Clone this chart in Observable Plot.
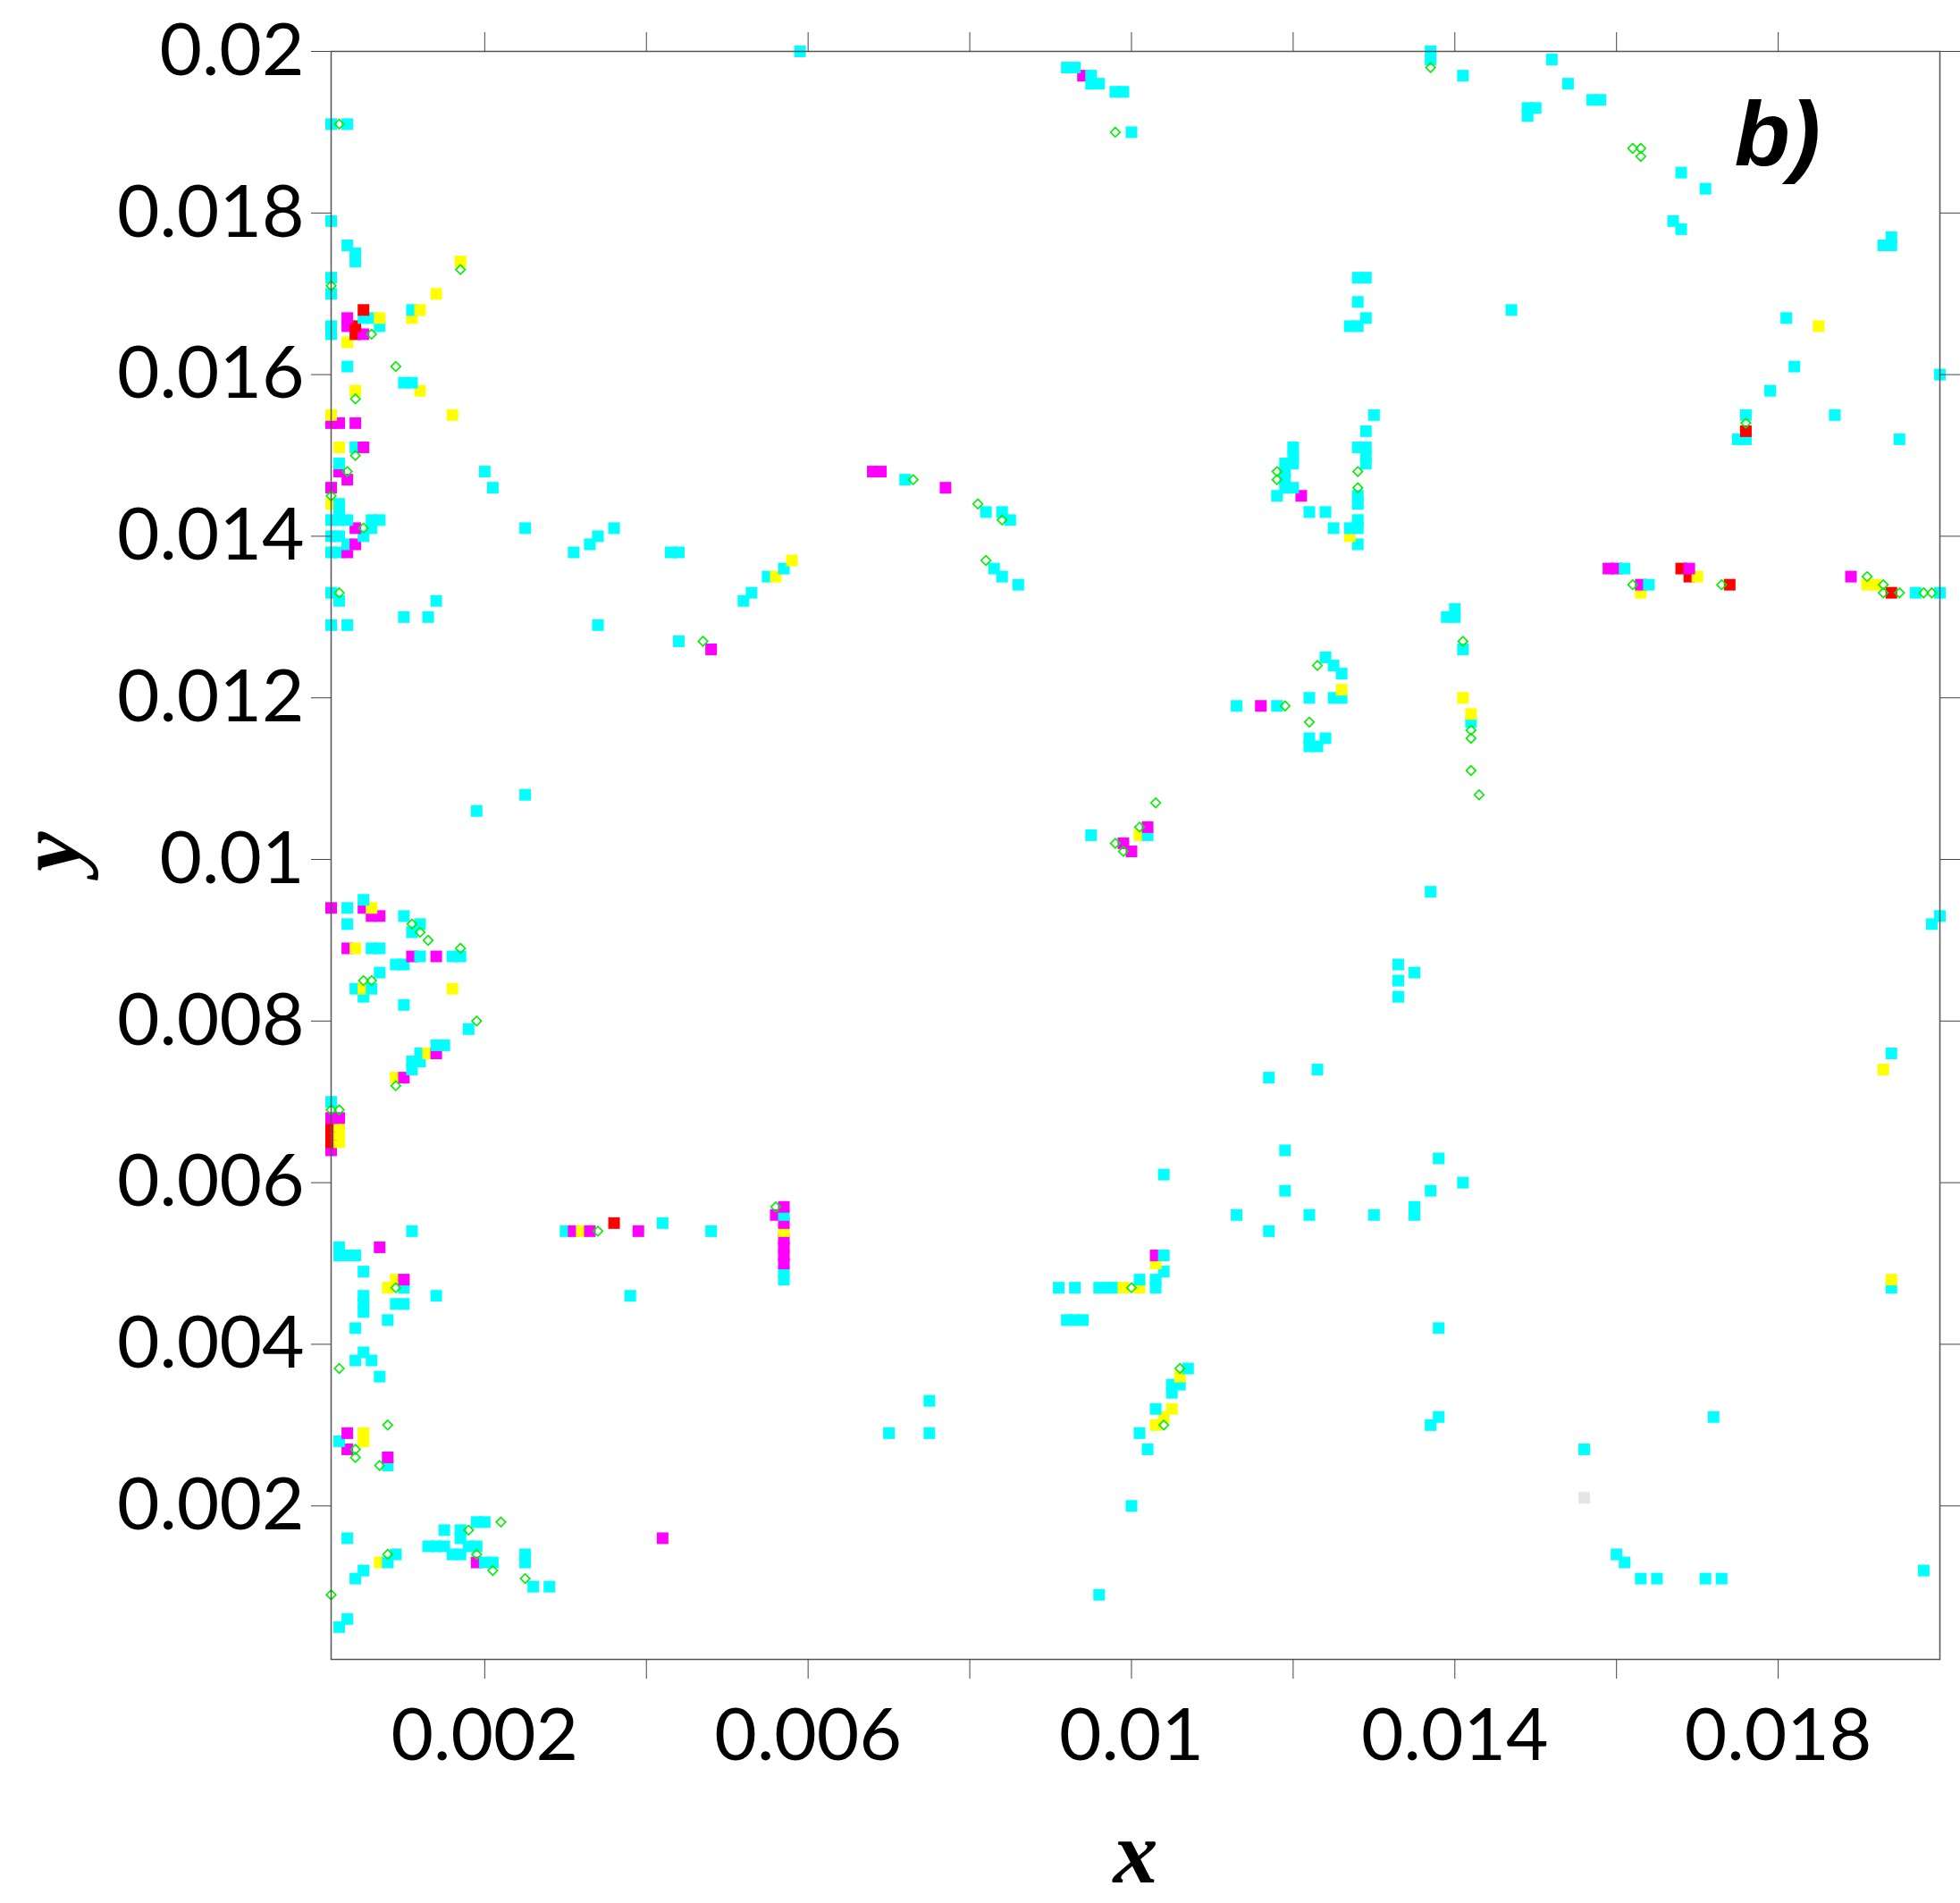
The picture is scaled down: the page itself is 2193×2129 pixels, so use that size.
<!DOCTYPE html>
<html><head><meta charset="utf-8">
<script src="https://cdn.jsdelivr.net/npm/d3@7"></script>
<script src="https://cdn.jsdelivr.net/npm/@observablehq/plot@0.6"></script>
<style>html,body{margin:0;padding:0;background:#fff;}</style>
</head><body><div id="chart"></div>
<script>
// Cell positions are given in units of 0.0001 (the grid step of the data): [x, y]
const UNIT = 1e-4;

const cyanCells = [
 [59,200],[1,191],[3,191],[1,179],[3,176],[4,175],[4,174],[1,172],[1,170],[11,168],[5,167],[6,167],[7,166],[1,166],[1,165],
 [3,161],[10,159],[11,159],[4,151],[2,149],[20,148],[21,146],[2,144],[2,143],[1,142],[2,142],[3,142],[6,142],[7,142],[6,141],
 [25,141],[36,141],[1,140],[2,140],[5,140],[34,140],[3,139],[33,139],[1,138],[2,138],[31,138],[43,138],[44,138],[57,136],[55,135],
 [1,133],[53,133],[2,132],[52,132],[14,132],
 [1,129],[3,129],[10,130],[13,130],[34,129],[44,127],[25,108],[19,106],[3,94],[5,95],[3,92],[10,93],[12,92],[11,91],
 [6,89],[7,89],[12,88],[16,88],[17,88],[9,87],[10,87],[7,86],[4,84],[6,84],[5,83],[10,82],[18,79],[14,77],[15,77],[12,76],
 [11,75],[12,75],[11,74],[1,70],
 [11,54],[2,52],[2,51],[3,51],[4,51],[5,49],[10,47],[5,46],[5,45],[5,44],[14,46],[9,45],[10,45],[38,46],[8,43],[4,42],[5,39],
 [4,38],[6,38],[7,36],[2,28],[8,25],[19,18],[20,18],[15,17],[17,17],[3,16],[17,16],[13,15],[14,15],[15,15],[18,15],[19,15],
 [16,14],[17,14],[9,14],[8,13],[20,13],[21,13],[25,14],[25,13],[5,12],[4,11],[26,10],[28,10],[3,6],[2,5],
 [30,54],[42,55],[48,54],[57,56],[57,49],[57,48],
 [119,64],[104,61],[119,59],[113,56],[122,56],[130,56],[117,54],[104,51],[104,49],[101,48],[103,48],[103,47],[91,47],[93,47],
 [96,47],[97,47],[98,47],[92,43],[93,43],[94,43],[107,37],[105,35],[106,35],[105,34],[103,32],[101,29],[102,27],[75,33],[70,29],
 [75,29],[100,20],[96,9],
 [138,63],[141,60],[137,59],[135,57],[135,56],[138,42],[138,31],[137,30],[172,31],[156,27],[160,14],[161,13],[163,11],[165,11],
 [171,11],[173,11],[198,12],[194,47],
 [124,125],[125,124],[126,123],[125,120],[126,120],[122,120],[113,119],[118,119],[122,115],[122,114],[124,115],[123,114],
 [95,103],[102,103],[133,87],[133,85],[133,83],[117,73],[123,74],
 [140,131],[139,130],[140,130],[141,126],[142,117],[137,96],[135,86],[200,93],[199,92],[194,76],[197,133],[200,133],[164,134],
 [137,200],[137,199],[152,199],[141,197],[154,196],[157,194],[158,194],[149,193],[150,193],[149,192],[168,185],[171,183],
 [167,179],[168,178],[194,177],[193,176],[194,176],[147,168],[181,167],[182,161],[200,160],[179,158],[176,155],[187,155],
 [175,152],[176,152],[195,152],[161,136],
 [92,198],[93,198],[95,197],[95,196],[96,196],[98,195],[99,195],[100,190],[128,172],[129,172],[128,169],[129,167],[127,166],
 [128,166],[130,155],[129,153],[128,151],[129,151],[129,150],[129,149],[128,145],[128,144],[128,142],[128,141],[127,141],
 [128,139],[125,141],[122,143],[124,143],[118,145],[119,146],[120,146],[120,151],[120,150],[120,149],[119,149],[119,148],
 [119,147],[72,147],[82,143],[84,143],[85,142],[83,136],[84,135],[86,134]
];

const magentaCells = [
 [5,165],[3,167],[3,166],[1,154],[2,154],[4,154],[5,151],[2,148],[3,147],[68,148],[69,148],[1,146],[4,141],[4,139],[3,138],[48,126],
 [1,94],[5,94],[6,93],[7,93],[3,89],[11,88],[14,88],[14,76],[10,73],[1,68],[2,68],
 [1,64],[7,52],[10,48],[3,29],[3,27],[8,26],[42,16],[19,13],
 [31,54],[33,54],[39,54],[57,57],[56,56],[57,55],[57,53],[57,52],[57,51],[57,50],
 [103,51],[116,119],[102,104],[99,102],[100,101],
 [77,146],[121,145],[94,197],
 [159,136],[160,136],[169,136],[189,135],[163,134]
];

const yellowCells = [
 [17,174],[14,170],[12,168],[11,167],[7,167],[3,164],[12,158],[4,158],[1,155],[16,155],[2,151],[1,144],[58,137],[56,135],
 [6,94],[4,89],[5,84],[16,84],[13,76],[9,73],
 [2,67],[2,66],[2,65],[9,48],[8,47],[5,29],[5,28],[7,13],[32,54],[57,54],
 [103,50],[99,47],[101,47],[106,36],[105,32],[104,31],[103,30],
 [194,48],[126,121],[101,103],[141,120],[142,118],[193,74],
 [127,140],[185,166],[170,135],[191,134],[192,134],[163,133]
];

const redCells = [
 [5,168],[4,166],[4,165],[1,67],[1,66],[1,65],[36,55],[176,153],[168,136],[169,135],[174,134],[194,133]
];

const greyCells = [[156,21]];

const greenDiamonds = [
 [2,191],[17,173],[1,171],[6,165],[9,161],[4,157],[4,150],[3,148],[1,145],[5,141],[2,133],
 [47,127],[11,92],[12,91],[13,90],[17,89],[5,85],[6,85],[19,80],[9,72],[1,69],[2,69],
 [9,47],[2,37],[8,30],[4,27],[4,26],[7,25],[22,18],[18,17],[8,14],[19,14],[21,12],[25,11],[1,9],[34,54],[56,57],
 [106,37],[100,47],[104,30],
 [123,124],[119,119],[122,117],[103,107],[101,104],[98,102],[99,101],
 [141,127],[142,116],[142,115],[142,111],[143,108],
 [137,198],[162,188],[163,188],[163,187],[176,154],[191,135],[193,134],[162,134],[173,134],[193,133],[195,133],[198,133],[199,133],
 [98,190],[128,148],[128,146],[118,148],[118,147],[73,147],[81,144],[84,142],[82,137]
];

const seriesColor = {cyan: "#00ffff", magenta: "#ff00ff", yellow: "#ffff00", red: "#ff0000", grey: "#e5e5e5", green: "#00ee00"};

const xTicks = [0.002, 0.004, 0.006, 0.008, 0.01, 0.012, 0.014, 0.016, 0.018];
const xTickLabels = ["0.002", "", "0.006", "", "0.01", "", "0.014", "", "0.018"];
const yTicks = [0.002, 0.004, 0.006, 0.008, 0.01, 0.012, 0.014, 0.016, 0.018, 0.02];
const yTickLabels = ["0.002", "0.004", "0.006", "0.008", "0.01", "0.012", "0.014", "0.016", "0.018", "0.02"];
const xDomain = [0.0001, 0.02];
const yDomain = [0.0001, 0.02];

const toRows = (cells, key) => cells.map(([i, j]) => ({x: i * UNIT, y: j * UNIT, i, j, color: seriesColor[key]}));
const squares = [
  ...toRows(cyanCells, "cyan"), ...toRows(magentaCells, "magenta"), ...toRows(yellowCells, "yellow"),
  ...toRows(redCells, "red"), ...toRows(greyCells, "grey")
].sort((a, b) => (a.j - b.j) || (a.i - b.i));
const diamonds = toRows(greenDiamonds, "green");

const xLab = new Map(xTicks.map((t, k) => [t, xTickLabels[k]]));
const yLab = new Map(yTicks.map((t, k) => [t, yTickLabels[k]]));

const chart = Plot.plot({
  width: 2193, height: 2129,
  marginLeft: 370, marginRight: 23, marginTop: 57, marginBottom: 273,
  style: {fontFamily: "Lato", fontSize: "82px", background: "#fff", color: "#000"},
  x: {domain: xDomain},
  y: {domain: yDomain},
  color: {type: "identity"},
  marks: [
    Plot.dot(squares, {x: "x", y: "y", symbol: "square", r: 7.33, fill: "color", stroke: null}),
    Plot.dot(diamonds, {x: "x", y: "y", symbol: "diamond2", r: 4.8, fill: "none", stroke: "color", strokeWidth: 1.6}),
    Plot.frame({stroke: "#555", strokeWidth: 1.5}),
    Plot.axisX({anchor: "bottom", ticks: xTicks, tickSize: 22, tickPadding: 32, tickFormat: d => xLab.get(d) ?? "", label: null, stroke: "#444"}),
    Plot.axisX({anchor: "top", ticks: xTicks, tickSize: 22, tickFormat: () => "", label: null, stroke: "#444"}),
    Plot.axisY({anchor: "left", ticks: yTicks, tickSize: 22, tickPadding: 8, tickFormat: d => yLab.get(d) ?? "", label: null, stroke: "#444"}),
    Plot.axisY({anchor: "right", ticks: yTicks, tickSize: 22, tickFormat: () => "", label: null, stroke: "#444"}),
    Plot.text(["x"], {text: d => d, frameAnchor: "bottom", dy: 217, fontFamily: "Liberation Serif", fontWeight: "bold", fontStyle: "italic", fontSize: 100, lineAnchor: "middle", fill: "#000"}),
    Plot.text(["y"], {text: d => d, frameAnchor: "left", dx: -314, dy: 18, rotate: -90, fontFamily: "Liberation Serif", fontWeight: "bold", fontStyle: "italic", fontSize: 100, lineAnchor: "middle", fill: "#000"}),
    Plot.text(["b)"], {text: d => d, frameAnchor: "top-right", dx: -230, dy: 95, textAnchor: "start", fontFamily: "Liberation Sans", fontWeight: "bold", fontStyle: "italic", fontSize: 102, lineAnchor: "middle", fill: "#000"})
  ]
});
document.getElementById("chart").append(chart);
</script>
</body></html>
